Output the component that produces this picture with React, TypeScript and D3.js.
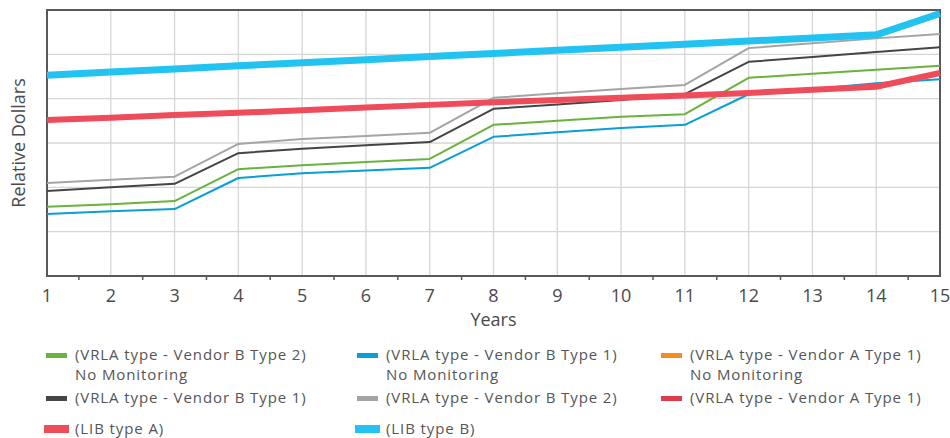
import { useRef, useEffect } from 'react';
import * as d3 from 'd3';

const years = [1, 2, 3, 4, 5, 6, 7, 8, 9, 10, 11, 12, 13, 14, 15];

const vrlaB2NoMon = [1.56, 1.62, 1.69, 2.41, 2.5, 2.57, 2.64, 3.41, 3.5, 3.59, 3.65, 4.47, 4.56, 4.65, 4.74];
const vrlaB1NoMon = [1.4, 1.46, 1.51, 2.21, 2.32, 2.38, 2.44, 3.14, 3.24, 3.34, 3.41, 4.1, 4.22, 4.35, 4.44];
const vrlaB1 = [1.92, 2.0, 2.08, 2.77, 2.87, 2.95, 3.02, 3.77, 3.87, 3.97, 4.1, 4.83, 4.94, 5.05, 5.16];
const vrlaB2 = [2.1, 2.17, 2.24, 2.98, 3.09, 3.16, 3.23, 4.02, 4.12, 4.22, 4.31, 5.14, 5.25, 5.36, 5.46];
const libA = [3.52, 3.57, 3.63, 3.68, 3.74, 3.8, 3.86, 3.92, 3.97, 4.02, 4.07, 4.13, 4.2, 4.27, 4.58];
const libB = [4.53, 4.6, 4.67, 4.74, 4.81, 4.88, 4.95, 5.02, 5.09, 5.16, 5.23, 5.3, 5.37, 5.44, 5.92];

const yGrid = [0, 1, 2, 3, 4, 5, 6];

interface Series {
  name: string;
  sub?: string;
  color: string;
  values: number[] | null;
  width: number;
}

const series: Series[] = [
  { name: '(VRLA type - Vendor B Type 2)', sub: 'No Monitoring', color: '#6ab23e', values: vrlaB2NoMon, width: 2 },
  { name: '(VRLA type - Vendor B Type 1)', sub: 'No Monitoring', color: '#079fd6', values: vrlaB1NoMon, width: 2 },
  { name: '(VRLA type - Vendor A Type 1)', sub: 'No Monitoring', color: '#f58b22', values: null, width: 2 },
  { name: '(VRLA type - Vendor B Type 1)', color: '#454547', values: vrlaB1, width: 2 },
  { name: '(VRLA type - Vendor B Type 2)', color: '#a4a4a6', values: vrlaB2, width: 2 },
  { name: '(VRLA type - Vendor A Type 1)', color: '#e23a4c', values: null, width: 2 },
  { name: '(LIB type A)', color: '#f04b5b', values: libA, width: 6 },
  { name: '(LIB type B)', color: '#22c3f1', values: libB, width: 7 },
];

export default function App() {
  const ref = useRef<SVGSVGElement>(null);

  useEffect(() => {
    if (!ref.current) return;
    const width = 950;
    const height = 438;
    const margin = { top: 10, right: 10, bottom: 162, left: 47 };
    const font = '"Open Sans", sans-serif';

    d3.select(ref.current).selectAll('*').remove();
    const svg = d3.select(ref.current).attr('width', width).attr('height', height);

    const x = d3.scaleLinear().domain([1, 15]).range([margin.left, width - margin.right]);
    const y = d3.scaleLinear().domain([0, 6]).range([height - margin.bottom, margin.top]);

    // grid
    svg
      .append('g')
      .selectAll('line')
      .data(years)
      .join('line')
      .attr('x1', (d) => x(d))
      .attr('x2', (d) => x(d))
      .attr('y1', y(6))
      .attr('y2', y(0))
      .attr('stroke', '#d6d6d6')
      .attr('stroke-width', 1.3);
    svg
      .append('g')
      .selectAll('line')
      .data(yGrid)
      .join('line')
      .attr('x1', x(1))
      .attr('x2', x(15))
      .attr('y1', (d) => y(d))
      .attr('y2', (d) => y(d))
      .attr('stroke', '#d6d6d6')
      .attr('stroke-width', 1.3);

    // frame
    svg
      .append('rect')
      .attr('x', x(1))
      .attr('y', y(6))
      .attr('width', x(15) - x(1))
      .attr('height', y(0) - y(6))
      .attr('fill', 'none')
      .attr('stroke', '#58585a')
      .attr('stroke-width', 2);

    // x axis ticks between years
    svg
      .append('g')
      .selectAll('line')
      .data(years.slice(0, -1))
      .join('line')
      .attr('x1', (d) => x(d + 0.5))
      .attr('x2', (d) => x(d + 0.5))
      .attr('y1', y(0))
      .attr('y2', y(0) + 4)
      .attr('stroke', '#58585a')
      .attr('stroke-width', 1.5);

    svg
      .append('g')
      .selectAll('text')
      .data(years)
      .join('text')
      .attr('x', (d) => x(d))
      .attr('y', y(0) + 26)
      .attr('text-anchor', 'middle')
      .attr('font-family', font)
      .attr('font-size', 18)
      .attr('fill', '#4a4a4c')
      .text((d) => d);

    svg
      .append('text')
      .attr('x', (x(1) + x(15)) / 2)
      .attr('y', y(0) + 50)
      .attr('text-anchor', 'middle')
      .attr('font-family', font)
      .attr('font-size', 18)
      .attr('fill', '#4a4a4c')
      .text('Years');

    svg
      .append('text')
      .attr('transform', `translate(25,${(y(0) + y(6)) / 2}) rotate(-90)`)
      .attr('text-anchor', 'middle')
      .attr('font-family', font)
      .attr('font-size', 18)
      .attr('fill', '#4a4a4c')
      .text('Relative Dollars');

    const line = d3
      .line<number>()
      .x((_, i) => x(years[i]))
      .y((d) => y(d));

    svg
      .append('g')
      .selectAll('path')
      .data(series.filter((s) => s.values))
      .join('path')
      .attr('d', (s) => line(s.values as number[]))
      .attr('fill', 'none')
      .attr('stroke', (s) => s.color)
      .attr('stroke-width', (s) => s.width)
      .attr('stroke-linejoin', 'round');

    // legend
    const colX = [46, 357, 661];
    const rowY = [360, 403, 434];
    const lg = svg.append('g');
    series.forEach((s, i) => {
      const cx = colX[i % 3];
      const cy = rowY[Math.floor(i / 3)];
      const thick = s.width > 3;
      lg.append('rect')
        .attr('x', thick ? cx - 2 : cx)
        .attr('y', thick ? cy - 9 : cy - 7)
        .attr('width', thick ? 25 : 21)
        .attr('height', thick ? 8 : 5)
        .attr('fill', s.color);
      const lines = s.sub ? [s.name, s.sub] : [s.name];
      lines.forEach((t, j) => {
        lg.append('text')
          .attr('x', cx + 29)
          .attr('y', cy + j * 20)
          .attr('font-family', font)
          .attr('font-size', 15)
          .attr('letter-spacing', 0.9)
          .attr('fill', '#555557')
          .text(t);
      });
    });
  }, []);

  return (
    <div style={{ position: 'absolute', left: 0, top: 0 }}>
      <svg ref={ref}></svg>
    </div>
  );
}
